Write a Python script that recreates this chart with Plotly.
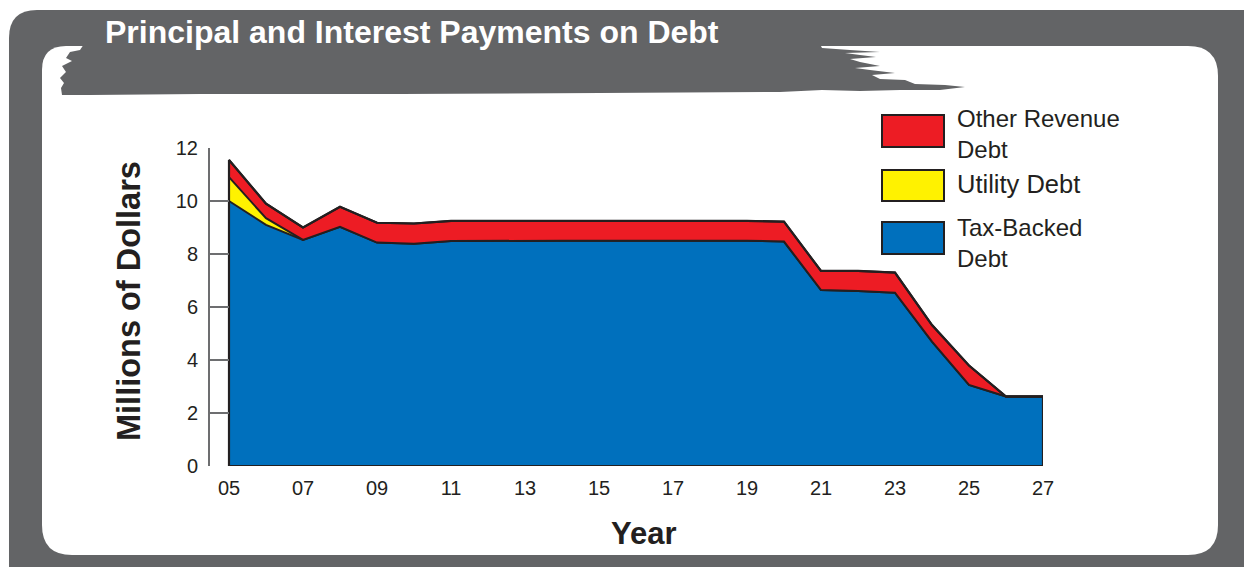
import numpy as np
import plotly.graph_objects as go

# Fiscal years (two-digit), values in millions of dollars
years = list(range(5, 28))
year_labels = ["05", "07", "09", "11", "13", "15", "17", "19", "21", "23", "25", "27"]
year_ticks = list(range(5, 28, 2))

tax_backed = [10.0, 9.1, 8.53, 9.03, 8.43, 8.39, 8.49,
              8.5, 8.5, 8.5, 8.5, 8.5, 8.5, 8.5, 8.5,
              8.47, 6.64, 6.6, 6.54, 4.69, 3.06, 2.62, 2.62]
utility = [0.9, 0.25, 0, 0, 0, 0, 0,
           0, 0, 0, 0, 0, 0, 0, 0,
           0, 0, 0, 0, 0, 0, 0, 0]
other_revenue = [0.65, 0.55, 0.47, 0.75, 0.75, 0.76, 0.76,
                 0.75, 0.75, 0.75, 0.75, 0.75, 0.75, 0.75, 0.75,
                 0.75, 0.72, 0.76, 0.76, 0.63, 0.73, 0.0, 0.0]

y_ticks = [0, 2, 4, 6, 8, 10, 12]

BLUE = "#0070bd"
YELLOW = "#fff200"
RED = "#ed1c24"
INK = "#231f20"
GRAY = "#636466"
AXIS = "#6d6e70"

W, H = 1244, 567
L, R, T, B = 210, 1043, 148, 466  # plot area in pixels
X0 = 5 - (229 - 210) / 37.0       # left edge of x range (a little before 05)


def px(x, y):
    """Pixel position -> paper coordinates string."""
    return f"{(x - L) / (R - L):.5f},{(B - y) / (B - T):.5f}"


def path(points, close=True):
    s = "M" + px(*points[0])
    for p in points[1:]:
        if p[0] == "Q":
            s += " Q" + px(*p[1]) + " " + px(*p[2])
        else:
            s += " L" + px(*p)
    return s + (" Z" if close else "")


fig = go.Figure()

series = [("Tax-Backed Debt", tax_backed, BLUE),
          ("Utility Debt", utility, YELLOW),
          ("Other Revenue Debt", other_revenue, RED)]
for name, vals, col in series:
    fig.add_trace(go.Scatter(
        x=years, y=vals, name=name, stackgroup="debt", mode="lines",
        line=dict(color=INK, width=2), fillcolor=col, showlegend=False,
        hoverinfo="skip"))

# outline around the whole stacked envelope
total = (np.array(tax_backed) + np.array(utility) + np.array(other_revenue)).tolist()
fig.add_trace(go.Scatter(
    x=[years[0]] + years + [years[-1], years[0]],
    y=[0] + total + [0, 0],
    mode="lines", line=dict(color=INK, width=2.2), showlegend=False,
    hoverinfo="skip"))

shapes = []
# dark outer frame with rounded top-left corner
shapes.append(dict(type="path", xref="paper", yref="paper", layer="below",
                   fillcolor=GRAY, line=dict(width=0),
                   path=path([(9, 600), (9, 38), ("Q", (9, 10), (37, 10)),
                              (1300, 10), (1300, 600)])))
# white inner panel
shapes.append(dict(type="path", xref="paper", yref="paper", layer="below",
                   fillcolor="white", line=dict(width=0),
                   path=path([(42, 70), ("Q", (42, 46), (66, 46)),
                              (1188, 46), ("Q", (1218, 46), (1218, 76)),
                              (1218, 525), ("Q", (1218, 555), (1188, 555)),
                              (72, 555), ("Q", (42, 555), (42, 525))])))
# brush-stroke banner behind the title
shapes.append(dict(type="path", xref="paper", yref="paper", layer="below",
                   fillcolor=GRAY, line=dict(width=0),
                   path=path([(84, 44), (80, 50), (70, 52), (66, 58), (72, 61),
                              (62, 66), (66, 72), (60, 78), (64, 83), (61, 88),
                              (62, 95), (90, 95), (200, 94), (400, 94),
                              (600, 93), (780, 92), (822, 90), (860, 91),
                              (900, 90), (940, 90), (965, 87), (945, 85),
                              (915, 84), (905, 80), (880, 79), (872, 75),
                              (895, 73), (870, 70), (855, 68), (880, 66),
                              (860, 62), (850, 59), (876, 57), (860, 55),
                              (845, 53), (880, 52), (850, 50), (822, 48),
                              (820, 44)])))

# legend swatches
legend_items = [(RED, 115, 147), (YELLOW, 170, 201), (BLUE, 222, 254)]
for col, y0, y1 in legend_items:
    shapes.append(dict(type="rect", xref="paper", yref="paper", layer="above",
                       x0=(882 - L) / (R - L), x1=(944 - L) / (R - L),
                       y0=(B - y1) / (B - T), y1=(B - y0) / (B - T),
                       fillcolor=col, line=dict(color=INK, width=2)))


def ann(text, x, y, size, color=INK, bold=False, xanchor="left", angle=0):
    return dict(text=f"<b>{text}</b>" if bold else text, xref="paper", yref="paper",
                x=(x - L) / (R - L), y=(B - y) / (B - T), xanchor=xanchor,
                yanchor="middle", showarrow=False, textangle=angle, align="left",
                font=dict(family="Liberation Sans, Arial, sans-serif", size=size,
                          color=color))


annotations = [
    ann("Principal and Interest Payments on Debt", 103, 32, 32, "white", True),
    ann("Other Revenue<br>Debt", 955, 134, 24),
    ann("Utility Debt", 955, 184, 25.5),
    ann("Tax-Backed<br>Debt", 955, 243, 24),
    ann("Year", 644, 533, 31, INK, True, "center"),
    ann("Millions of Dollars", 129, 301, 32.5, INK, True, "center", -90),
]

fig.update_layout(
    width=W, height=H, autosize=False,
    margin=dict(l=L, r=W - R, t=T, b=H - B, pad=0),
    paper_bgcolor="white", plot_bgcolor="rgba(0,0,0,0)",
    shapes=shapes, annotations=annotations,
    font=dict(family="Liberation Sans, Arial, sans-serif", color=INK),
    xaxis=dict(range=[X0, 27], tickvals=year_ticks, ticktext=year_labels,
               showgrid=False, zeroline=False, showline=False, ticks="",
               tickfont=dict(size=20, color=INK), ticklabelstandoff=8),
    yaxis=dict(range=[0, 12], tickvals=y_ticks, showgrid=False, zeroline=False,
               showline=True, linecolor=AXIS, linewidth=2, ticks="inside",
               ticklen=19, tickwidth=1.5, tickcolor=AXIS,
               tickfont=dict(size=20, color=INK), ticklabelstandoff=6),
)

fig.write_html("out.html")
